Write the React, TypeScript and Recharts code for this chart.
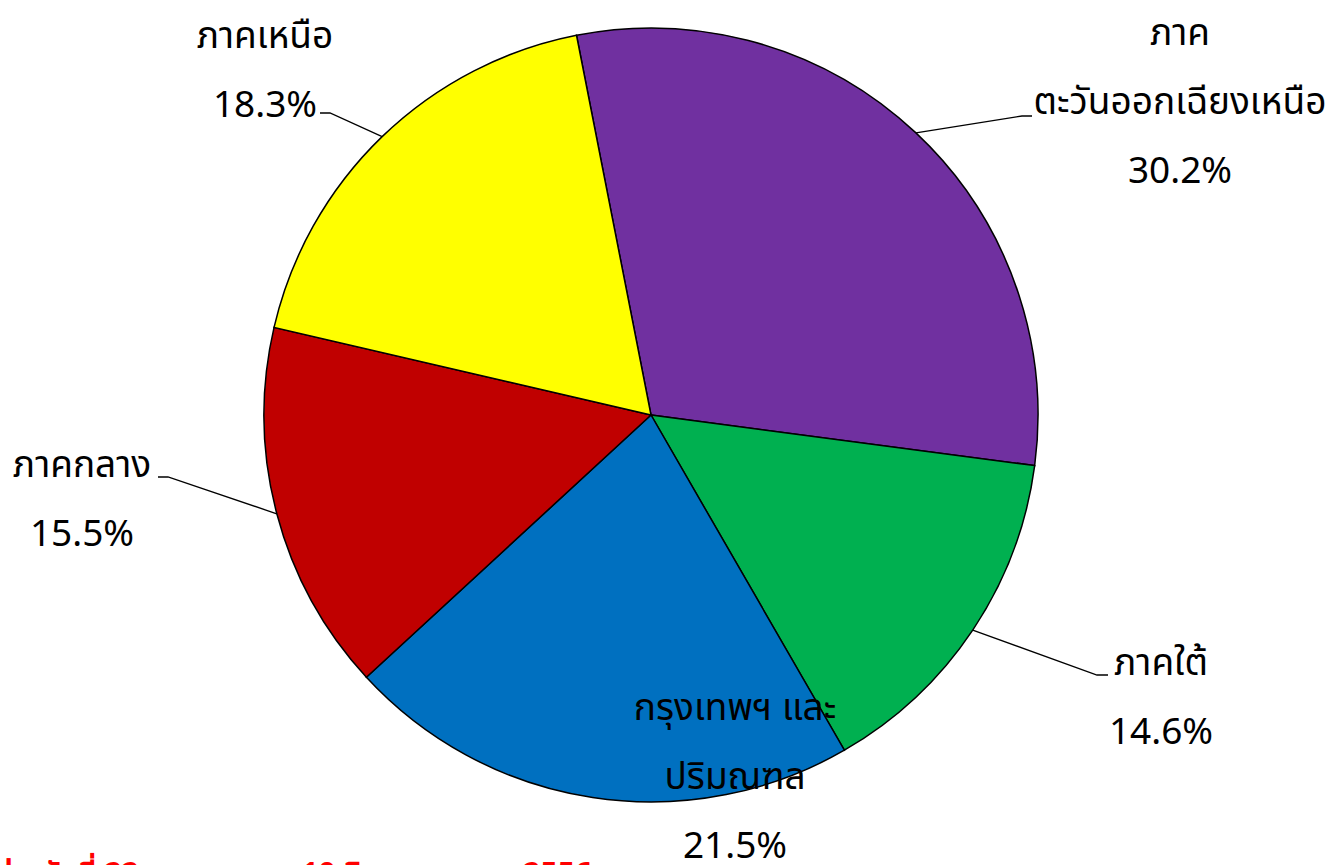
import { useEffect } from "react";
import { PieChart, Pie, Cell } from "recharts";

const regions = [
    "ภาค\nตะวันออกเฉียงเหนือ",
    "ภาคใต้",
    "กรุงเทพฯ และ\nปริมณฑล",
    "ภาคกลาง",
    "ภาคเหนือ",
];
const shares = [30.2, 14.6, 21.5, 15.5, 18.3];
const COLORS = ["#7030A0", "#00B050", "#0070C0", "#C00000", "#FFFF00"];
const footnote = "ข้อมูลระหว่างวันที่ 22 กรกฎาคม – 10 สิงหาคม พ.ศ. 2556";

const data = regions.map((region, i) => ({ region, share: shares[i] }));

// ตำแหน่งป้าย (เทียบกับจุดศูนย์กลาง): dx = กึ่งกลางข้อความ, dy = baseline บรรทัดแรก
const LABEL_LAYOUT = [
    { dx: 529, dy: -370, elbow: [371, -299], stub: [381, -299] },
    { dx: 510, dy: 260, elbow: [446, 260], stub: [457, 260] },
    { dx: 84, dy: 305, elbow: null, stub: null },
    { dx: -569, dy: 62, elbow: [-483, 62], stub: [-493, 62] },
    { dx: -386, dy: -367, elbow: [-321, -302], stub: [-331, -302] },
];

const FONT = "'Noto Sans Thai', 'Noto Sans', 'DejaVu Sans', sans-serif";
const RAD = Math.PI / 180;
const LINE_GAP = 69;

function renderLabel(props: any) {
    const { cx, cy, midAngle, outerRadius, index, value, payload } = props;
    const lay = LABEL_LAYOUT[index];
    const lines = [...String(payload.region).split("\n"), `${Number(value).toFixed(1)}%`];
    const sx = cx + outerRadius * Math.cos(-midAngle * RAD);
    const sy = cy + outerRadius * Math.sin(-midAngle * RAD);
    return (
        <g key={`lbl-${index}`}>
            {lay.elbow && (
                <polyline
                    points={`${sx},${sy} ${cx + lay.elbow[0]},${cy + lay.elbow[1]} ${cx + lay.stub![0]},${cy + lay.stub![1]}`}
                    fill="none"
                    stroke="#000"
                    strokeWidth={1.3}
                />
            )}
            {lines.map((t, i) => (
                <text
                    key={i}
                    x={cx + lay.dx}
                    y={cy + lay.dy + i * LINE_GAP}
                    textAnchor="middle"
                    fontSize={37}
                    fontFamily={FONT}
                    fill="#000"
                >
                    {t}
                </text>
            ))}
        </g>
    );
}

export default function App() {
    useEffect(() => {
        document.body.style.margin = "0";
    }, []);

    return (
        <div style={{ position: "relative", width: 1330, height: 865, overflow: "hidden", background: "#fff" }}>
            <PieChart width={1330} height={865} margin={{ top: 0, right: 0, bottom: 0, left: 0 }}>
                <Pie
                    data={data}
                    dataKey="share"
                    nameKey="region"
                    cx={651}
                    cy={415}
                    outerRadius={387}
                    startAngle={101.1}
                    endAngle={-258.9}
                    stroke="#000"
                    strokeWidth={1.5}
                    label={renderLabel}
                    labelLine={false}
                    isAnimationActive={false}
                >
                    {data.map((_e, i) => (
                        <Cell key={`cell-${i}`} fill={COLORS[i]} />
                    ))}
                </Pie>
            </PieChart>
            <svg width={1330} height={865} style={{ position: "absolute", left: 0, top: 0, pointerEvents: "none" }}>
                <text x={592} y={884} textAnchor="end" fontSize={30} fontWeight="bold" fontFamily={FONT} fill="#FF0000">
                    {footnote}
                </text>
            </svg>
        </div>
    );
}
